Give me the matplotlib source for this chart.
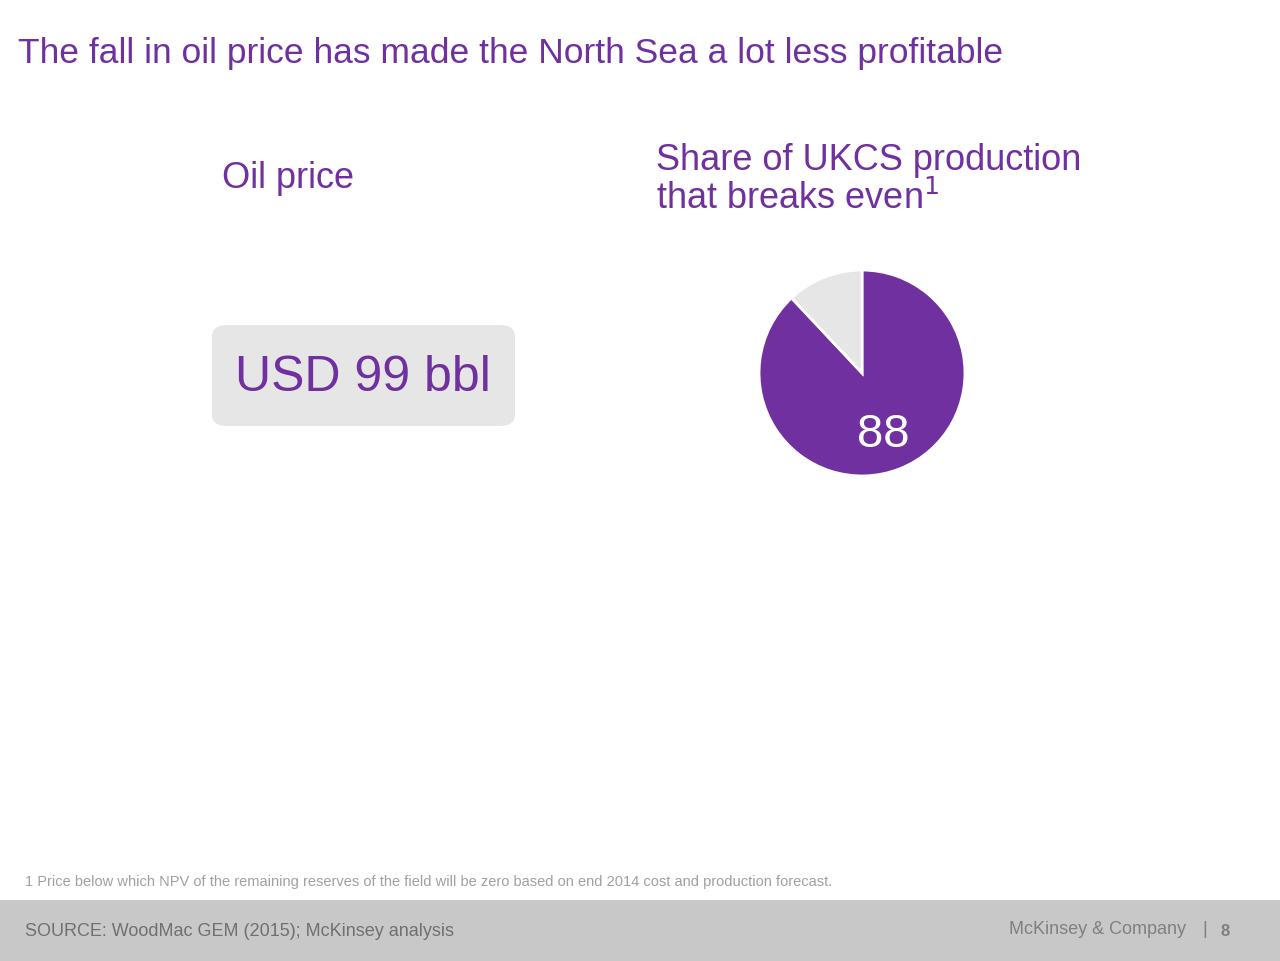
import matplotlib
matplotlib.use("Agg")
import matplotlib.pyplot as plt
from matplotlib.patches import FancyBboxPatch, Rectangle

plt.rcParams['font.family'] = ['Liberation Sans', 'DejaVu Sans']
purple = '#7030a0'
title = "The fall in oil price has made the North Sea a lot less profitable"
left_label = "Oil price"
right_label = "Share of UKCS production\nthat breaks even$^1$"
price_text = "USD 99 bbl"
shares = [88, 12]
share_colors = [purple, '#e6e6e6']
footnote = "1 Price below which NPV of the remaining reserves of the field will be zero based on end 2014 cost and production forecast."
source = "SOURCE: WoodMac GEM (2015); McKinsey analysis"

W, H = 1280, 961
fig = plt.figure(figsize=(12.8, 9.61), dpi=100)
def fx(x): return x / W
def fy(y): return 1 - y / H

fig.text(fx(18), fy(54), title, color=purple, fontsize=25.5, va='center', ha='left')
fig.text(fx(222), fy(178), left_label, color=purple, fontsize=26, va='center')
fig.text(fx(656), fy(180), right_label, color=purple, fontsize=26, va='center', linespacing=1.1)

box = FancyBboxPatch((fx(212), fy(426)), fx(515) - fx(212), fy(325) - fy(426),
                     boxstyle="round,pad=0,rounding_size=0.012", transform=fig.transFigure,
                     facecolor='#e6e6e6', edgecolor='none')
fig.patches.append(box)
fig.text(fx(363), fy(378), price_text, color=purple, fontsize=36, ha='center', va='center')

r = 104
ax = fig.add_axes([fx(862 - r), fy(373 + r), 2 * r / W, 2 * r / H])
ax.pie(shares, colors=share_colors, startangle=90, counterclock=False,
       wedgeprops=dict(edgecolor='white', linewidth=2))
ax.set_xlim(-1.01, 1.01)
ax.set_ylim(-1.01, 1.01)
ax.set_aspect('equal')
ax.text(0.21, -0.6, str(shares[0]), color='white', fontsize=34, ha='center', va='center')

fig.text(fx(25), fy(882), footnote, color='#a0a0a0', fontsize=10.5, va='center')
fig.patches.append(Rectangle((0, 0), 1, fy(900), transform=fig.transFigure,
                             facecolor='#c8c8c8', edgecolor='none'))
fig.text(fx(25), fy(931), source, color='#707070', fontsize=13, va='center')
fig.text(fx(1186), fy(929), "McKinsey & Company", color='#808080', fontsize=13, va='center', ha='right')
fig.text(fx(1205), fy(929), "|", color='#808080', fontsize=13, va='center', ha='center')
fig.text(fx(1225), fy(931), "8", color='#808080', fontsize=12, va='center', ha='center', fontweight='bold')

fig.savefig("out.png", dpi=100)
